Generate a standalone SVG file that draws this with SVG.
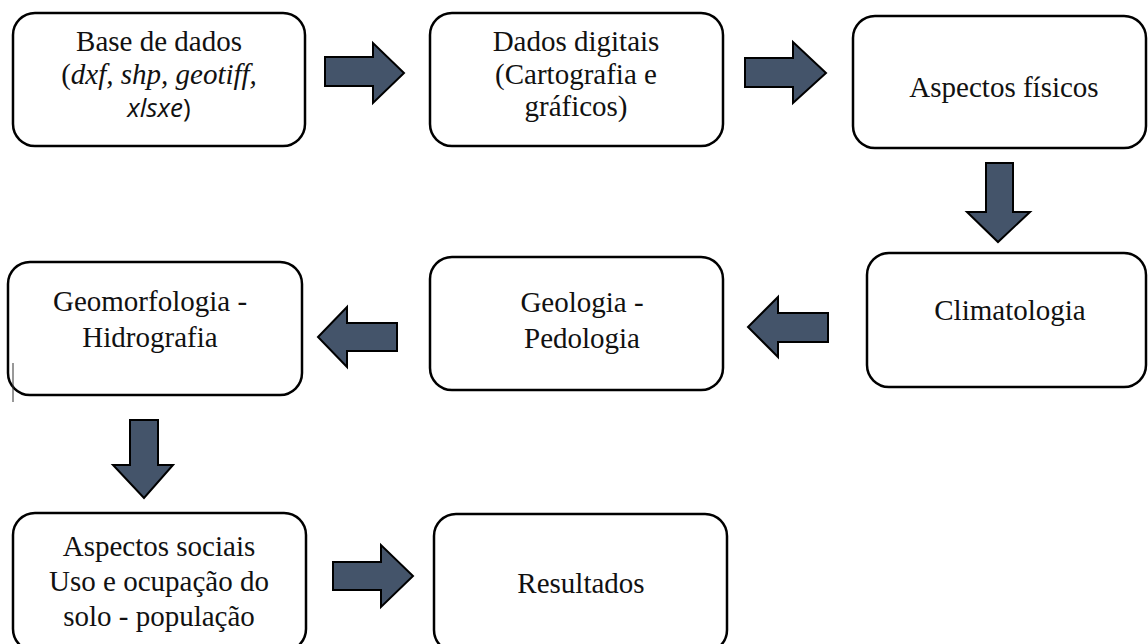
<svg xmlns="http://www.w3.org/2000/svg" width="1148" height="644" viewBox="0 0 1148 644">
<style>
.box{fill:#fff;stroke:#000;stroke-width:2.5}
.t{font-family:"Liberation Serif","Times New Roman",serif;font-size:29px;fill:#111;text-anchor:middle}
.s{font-family:"Open Sans","Liberation Sans",sans-serif;font-size:26px}
.arr{fill:#44546a;stroke:#000;stroke-width:2;stroke-linejoin:miter}
</style>
<rect width="1148" height="644" fill="#fff"/>
<g id="n1"><rect class="box" x="13" y="13" width="292" height="133" rx="22"/>
<text class="t" x="159" y="51">Base de dados</text>
<text class="t" x="159" y="84">(<tspan font-style="italic">dxf, shp, geotiff,</tspan></text>
<text class="t" x="159" y="117"><tspan class="s" font-style="italic">xlsxe</tspan><tspan class="s">)</tspan></text></g>
<g id="n2"><rect class="box" x="430" y="13" width="293" height="133" rx="22"/>
<text class="t" x="576" y="51">Dados digitais</text>
<text class="t" x="576" y="84">(Cartografia e</text>
<text class="t" x="576" y="116">gráficos)</text></g>
<g id="n3"><rect class="box" x="853" y="16" width="293" height="132" rx="22"/>
<text class="t" x="1004" y="97">Aspectos físicos</text></g>
<g id="n4"><rect class="box" x="867" y="253" width="279" height="134" rx="22"/>
<text class="t" x="1010" y="320">Climatologia</text></g>
<g id="n5"><rect class="box" x="430" y="257" width="293" height="133" rx="22"/>
<text class="t" x="582" y="312">Geologia -</text>
<text class="t" x="582" y="348">Pedologia</text></g>
<g id="n6"><rect class="box" x="8" y="262" width="294" height="133" rx="22"/>
<text class="t" x="150" y="311">Geomorfologia -</text>
<text class="t" x="150" y="347">Hidrografia</text>
<line x1="13" y1="363" x2="13" y2="402" stroke="#333" stroke-width="1"/></g>
<g id="n7"><rect class="box" x="13" y="513" width="293" height="138" rx="22"/>
<text class="t" x="159" y="556">Aspectos sociais</text>
<text class="t" x="159" y="591">Uso e ocupação do</text>
<text class="t" x="159" y="626">solo - população</text></g>
<g id="n8"><rect class="box" x="434" y="514" width="293" height="138" rx="22"/>
<text class="t" x="581" y="593">Resultados</text></g>
<g id="connectors">
<polygon class="arr" points="325,57 373,57 373,43 404,73 373,103 373,86 325,86"/>
<polygon class="arr" points="745,58 793,58 793,42 826,73 793,103 793,87 745,87"/>
<polygon class="arr" points="986,163 1013,163 1013,212 1030,212 998,242 967,212 986,212"/>
<polygon class="arr" points="828,313 778,313 778,297 748,327 778,357 778,342 828,342"/>
<polygon class="arr" points="397,323 347,323 347,307 318,337 347,367 347,351 397,351"/>
<polygon class="arr" points="130,420 158,420 158,465 173,465 144,498 113,465 130,465"/>
<polygon class="arr" points="333,562 381,562 381,545 413,576 381,607 381,590 333,590"/>
</g>
</svg>
